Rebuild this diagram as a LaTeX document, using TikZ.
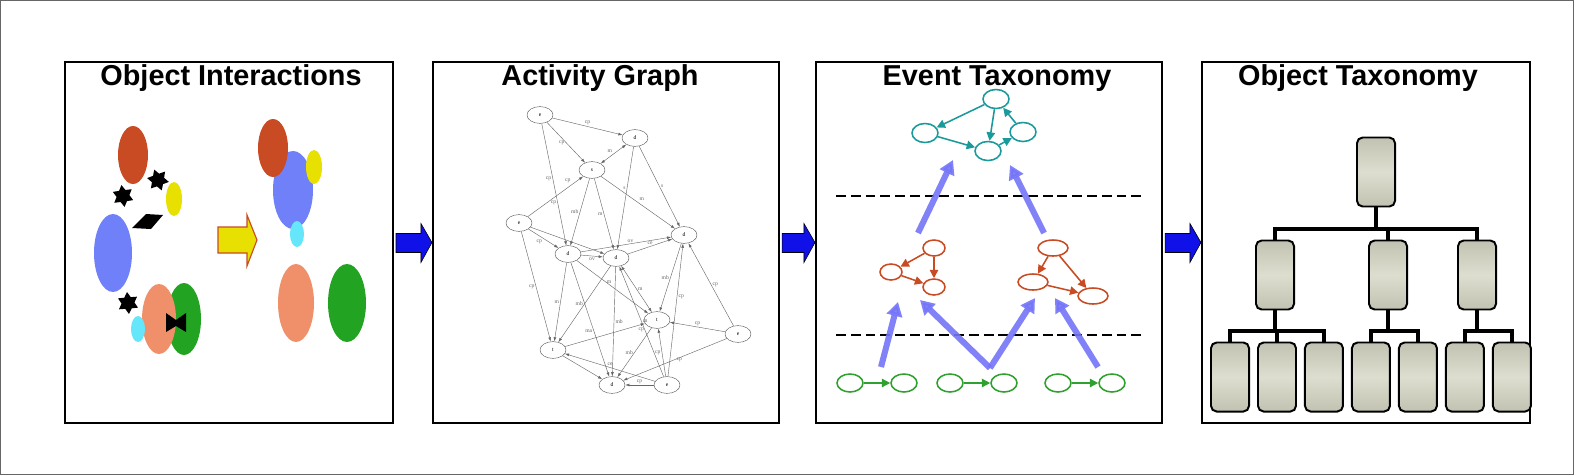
\documentclass[tikz,border=0pt]{standalone}
\usepackage{fontspec}
\setmainfont{Liberation Sans}
\newfontfamily\graphfont{Liberation Serif}
\usetikzlibrary{positioning,shapes.geometric,arrows.meta,calc}

\definecolor{rustc}{HTML}{C84B23}
\definecolor{yellowc}{HTML}{E8E000}
\definecolor{bluec}{HTML}{6F80F8}
\definecolor{cyanc}{HTML}{66E6FA}
\definecolor{salmonc}{HTML}{F0906A}
\definecolor{greenc}{HTML}{22A322}
\definecolor{tealc}{HTML}{1A9A9A}
\definecolor{glinec}{HTML}{30A030}
\definecolor{violetc}{HTML}{7474F8}
\definecolor{joinc}{HTML}{1010E8}
\definecolor{boxdark}{HTML}{C2C2B2}
\definecolor{boxlight}{HTML}{DEDED0}

\begin{document}
\begin{tikzpicture}[x=0.025cm, y=-0.025cm,
    panel/.style={draw=black, line width=1.4pt, fill=white, inner sep=0pt},
    title/.style={anchor=base, font=\fontsize{20.5}{24}\selectfont\bfseries},
    joinarrow/.style={fill=joinc, draw=black, line width=0.4pt},
    starnode/.style={star, star points=6, star point ratio=1.7, fill=black, minimum size=0.55cm, inner sep=0pt},
    gnode/.style={ellipse, draw=black!65, line width=0.3pt, minimum width=0.65cm, minimum height=0.42cm, inner sep=0pt, font=\graphfont\fontsize{4}{4}\selectfont},
    gedge/.style={draw=black!60, line width=0.3pt, -{Latex[length=3pt,width=2pt]}},
    gboth/.style={draw=black!60, line width=0.3pt, {Latex[length=3pt,width=2pt]}-{Latex[length=3pt,width=2pt]}},
    elbl/.style={font=\graphfont\fontsize{4}{4}\selectfont, text=black!60, inner sep=1pt},
    tnode/.style={ellipse, draw=tealc, line width=1.1pt, minimum width=0.65cm, minimum height=0.475cm, inner sep=0pt},
    rnode/.style={ellipse, draw=rustc, line width=1.1pt, minimum width=0.55cm, minimum height=0.4cm, inner sep=0pt},
    rwide/.style={rnode, minimum width=0.75cm},
    grnode/.style={ellipse, draw=glinec, line width=1.1pt, minimum width=0.65cm, minimum height=0.45cm, inner sep=0pt},
    tedge/.style={draw=tealc, line width=1.1pt, -{Triangle[length=6pt,width=6pt]}},
    redge/.style={draw=rustc, line width=1.1pt, -{Triangle[length=6pt,width=6pt]}},
    gredge/.style={draw=glinec, line width=1.1pt, -{Triangle[length=6pt,width=6pt]}},
    lift/.style={draw=violetc, opacity=0.9, line width=4.3pt, -{Triangle[length=10pt,width=11pt]}},
    level/.style={draw=black, line width=2pt, dash pattern=on 7pt off 3.5pt},
    obox/.style={draw=black, line width=1.4pt, rounded corners=4pt, minimum width=0.95cm, minimum height=1.725cm, inner sep=0pt, top color=boxdark, bottom color=boxdark, middle color=boxlight},
    treeline/.style={draw=black, line width=2.8pt}]

    \useasboundingbox (0,0) rectangle (1574,475);
    \draw[black!60, line width=0.7pt] (0.5,0.5) rectangle (1573.5,474.5);

    % panels
    \node[panel, minimum width=8.2cm, minimum height=9.025cm] (p1) at (229,242.5) {};
    \node[panel, minimum width=8.65cm, minimum height=9.025cm] (p2) at (606,242.5) {};
    \node[panel, minimum width=8.65cm, minimum height=9.025cm] (p3) at (989,242.5) {};
    \node[panel, minimum width=8.2cm, minimum height=9.025cm] (p4) at (1366,242.5) {};

    \node[title] (t1) at (231,85) {Object Interactions};
    \node[title] (t2) at (600,85) {Activity Graph};
    \node[title] (t3) at (997,85) {Event Taxonomy};
    \node[title] (t4) at (1358,85) {Object Taxonomy};

    \foreach \a/\b in {p1/p2, p2/p3, p3/p4}
        \draw[joinarrow] ($(\a.east)+(2,-9)$) -- ($(\b.west)+(-11,-9)$) -- ++(0,-10) -- (\b.west)
            -- ++(-11,20) -- ++(0,-10) -- ($(\a.east)+(2,10)$) -- cycle;

    % object interactions
    \fill[rustc] (133,155) ellipse [x radius=15, y radius=29];
    \fill[yellowc] (174,199) ellipse [x radius=8, y radius=17];
    \fill[bluec] (113,253) ellipse [x radius=19, y radius=39];
    \fill[greenc] (184,319) ellipse [x radius=17, y radius=36];
    \fill[salmonc] (159,319) ellipse [x radius=17, y radius=35];
    \fill[cyanc] (138,329) ellipse [x radius=7, y radius=13];
    \node[starnode, rotate=8] (s1) at (123,196) {};
    \node[starnode, rotate=20] (s2) at (158,180) {};
    \node[starnode, rotate=5] (s3) at (128,303) {};
    \fill (132,228) -- (146,214) -- (163,215) -- (151,229) -- cycle;
    \fill (166,313) -- (176,320) -- (186,313) -- (186,332) -- (176,326) -- (166,332) -- cycle;
    \draw[fill=yellowc, draw=rustc, line width=0.8pt] (218,227) -- (247,227) -- (247,215) -- (257,240)
        -- (247,266) -- (247,253) -- (218,253) -- cycle;
    \fill[bluec] (293,190) ellipse [x radius=20, y radius=39];
    \fill[rustc] (273,148) ellipse [x radius=15, y radius=29];
    \fill[yellowc] (314,167) ellipse [x radius=8, y radius=17];
    \fill[cyanc] (297,234) ellipse [x radius=7, y radius=13];
    \fill[salmonc] (296,303) ellipse [x radius=18, y radius=39];
    \fill[greenc] (347,303) ellipse [x radius=19, y radius=39];

    % activity graph
    \node[gnode] (A) at (540,115) {e};
    \node[gnode] (B) at (635,138) {d};
    \node[gnode] (C) at (592,170) {s};
    \node[gnode] (E) at (519,223) {e};
    \node[gnode] (D) at (684,235) {d};
    \node[gnode] (F) at (568,254) {d};
    \node[gnode] (G) at (616,258) {d};
    \node[gnode] (H) at (657,320) {t};
    \node[gnode] (I) at (738,334) {e};
    \node[gnode] (J) at (553,350) {t};
    \node[gnode] (K) at (612,385) {d};
    \node[gnode] (L) at (667,385) {e};

    \draw[gedge] (A) -- node[elbl, above] {cp} (B);
    \draw[gedge] (A) -- node[elbl, left] {cp} (C);
    \draw[gedge] (A) -- node[elbl, left, pos=.45] {cp} node[elbl, left, pos=.65] {cp} (F);
    \draw[gedge] (E) -- node[elbl, above left, pos=.8] {cp} (C);
    \draw[gboth] (C) -- node[elbl, above left] {m} (B);
    \draw[gedge] (C) -- node[elbl, above right] {m} (D);
    \draw[gedge] (B) -- node[elbl, right] {s} (D);
    \draw[gedge] (B) -- node[elbl, left, pos=.4] {s} (G);
    \draw[gedge] (C) -- node[elbl, left] {mb} (F);
    \draw[gedge] (C) -- node[elbl, left] {m} (G);
    \draw[gedge] (E) -- node[elbl, below left] {cp} (F);
    \draw[gedge] (E) -- (G);
    \draw[gedge] (E) -- node[elbl, left] {cp} (J);
    \draw[gedge] (F) -- node[elbl, below] {ov} (G);
    \draw[gedge] (F) -- node[elbl, above, pos=.55] {ov} (D);
    \draw[gedge] (G) -- node[elbl, above] {ce} (D);
    \draw[gedge] (F) -- node[elbl, left] {m} (J);
    \draw[gedge] (F) -- node[elbl, left, pos=.6] {ma} (K);
    \draw[gedge] (F) -- node[elbl, right, pos=.4] {m} (H);
    \draw[gedge] (G) -- node[elbl, right] {mb} (K);
    \draw[gedge] (G) -- node[elbl, left] {mb} (J);
    \draw[gboth] (G) -- node[elbl, right] {m} (H);
    \draw[gedge] (D) -- node[elbl, left] {mb} (H);
    \draw[gedge] (I) -- node[elbl, right] {cp} (D);
    \draw[gedge] (I) -- node[elbl, above] {cp} (H);
    \draw[gedge] (I) -- node[elbl, right] {cp} (K);
    \draw[gedge] (L) -- node[elbl, above] {cp} (K);
    \draw[gedge] (L) -- node[elbl, left] {cp} (H);
    \draw[gedge] (L) -- node[elbl, right, pos=.6] {cp} (D);
    \draw[gedge] (L) -- node[elbl, right] {m} (G);
    \draw[gedge] (L) -- node[elbl, above] {ce} (J);
    \draw[gedge] (J) -- (K);
    \draw[gedge] (J) -- node[elbl, below right, pos=.9] {cp} (H);
    \draw[gedge] (H) -- node[elbl, left] {mb} (K);

    % event taxonomy
    \draw[level] (836,196) -- (1145,196);
    \draw[level] (836,335) -- (1145,335);

    \node[tnode] (T1) at (996,99) {};
    \node[tnode] (T2) at (925,133) {};
    \node[tnode] (T3) at (988,151) {};
    \node[tnode] (T4) at (1023,132) {};
    \draw[tedge] (T1) -- (T2);
    \draw[tedge] (T1) -- (T3);
    \draw[tedge] (T2) -- (T3);
    \draw[tedge] (T3) -- (T4);
    \draw[tedge] (T4) -- (T1);

    \node[rnode] (R1) at (934,248) {};
    \node[rnode] (R2) at (891,272) {};
    \node[rnode] (R3) at (934,287) {};
    \node[rwide] (R4) at (1053,248) {};
    \node[rwide] (R5) at (1033,282) {};
    \node[rwide] (R6) at (1093,296) {};
    \draw[redge] (R1) -- (R2);
    \draw[redge] (R1) -- (R3);
    \draw[redge] (R2) -- (R3);
    \draw[redge] (R4) -- (R5);
    \draw[redge] (R4) -- (R6);
    \draw[redge] (R5) -- (R6);

    \node[grnode] (G1) at (850,383) {};
    \node[grnode] (G2) at (904,383) {};
    \node[grnode] (G3) at (950,383) {};
    \node[grnode] (G4) at (1004,383) {};
    \node[grnode] (G5) at (1058,383) {};
    \node[grnode] (G6) at (1112,383) {};
    \draw[gredge] (G1) -- (G2);
    \draw[gredge] (G3) -- (G4);
    \draw[gredge] (G5) -- (G6);

    \coordinate (u1) at (881,367);
    \coordinate (u2) at (990,368);
    \coordinate (u3) at (1098,367);
    \coordinate (v1) at (898,302);
    \coordinate (v2) at (920,300);
    \coordinate (v3) at (1035,298);
    \coordinate (v4) at (1055,298);
    \coordinate (w1) at (918,233);
    \coordinate (w2) at (1044,233);
    \coordinate (x1) at (953,160);
    \coordinate (x2) at (1010,165);
    \draw[lift] (u1) -- (v1);
    \draw[lift] (u2) -- (v2);
    \draw[lift] (u2) -- (v3);
    \draw[lift] (u3) -- (v4);
    \draw[lift] (w1) -- (x1);
    \draw[lift] (w2) -- (x2);

    % object taxonomy
    \node[obox] (root) at (1376,172) {};
    \node[obox] (ma) at (1275,275) {};
    \node[obox] (mb) at (1388,275) {};
    \node[obox] (mc) at (1477,275) {};
    \node[obox] (l1) at (1230,377) {};
    \node[obox, right=0.175cm of l1] (l2) {};
    \node[obox, right=0.175cm of l2] (l3) {};
    \node[obox, right=0.175cm of l3] (l4) {};
    \node[obox, right=0.175cm of l4] (l5) {};
    \node[obox, right=0.175cm of l5] (l6) {};
    \node[obox, right=0.175cm of l6] (l7) {};

    \coordinate (bar0) at (1376,229);
    \coordinate (bara) at (1275,331);
    \coordinate (barb) at (1388,331);
    \coordinate (barc) at (1477,331);
    \draw[treeline] (root.south) -- (bar0);
    \draw[treeline] (ma.north) |- (bar0) -| (mc.north);
    \draw[treeline] (mb.north) -- (mb.north |- bar0);
    \draw[treeline] (ma.south) -- (bara);
    \draw[treeline] (l1.north) |- (bara) -| (l3.north);
    \draw[treeline] (l2.north) -- (l2.north |- bara);
    \draw[treeline] (mb.south) -- (barb);
    \draw[treeline] (l4.north) |- (barb) -| (l5.north);
    \draw[treeline] (mc.south) -- (barc);
    \draw[treeline] (l6.north) |- (barc) -| (l7.north);
\end{tikzpicture}
\end{document}
